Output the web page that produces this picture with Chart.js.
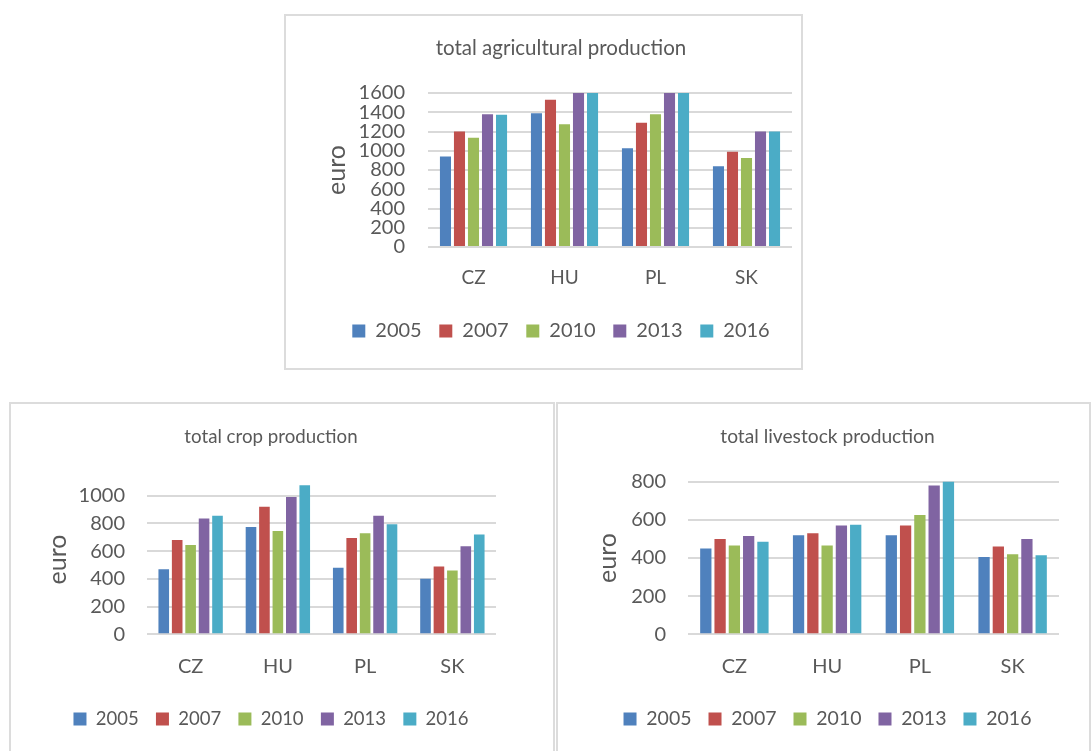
<!DOCTYPE html>
<html>
<head>
<meta charset="utf-8">
<script src="https://cdn.jsdelivr.net/npm/chart.js@4.4.1/dist/chart.umd.min.js"></script>
<style>
  body { margin: 0; background: #fff; }
  .panel { position: absolute; box-sizing: border-box; border: 2px solid #dcdcdc; background: #fff; overflow: hidden; }
  .panel canvas { position: absolute; left: 0; top: 0; }
</style>
</head>
<body>
<div class="panel" style="left:284px;top:14px;width:519px;height:356px"><canvas id="agri" width="515" height="352"></canvas></div>
<div class="panel" style="left:9px;top:402px;width:546px;height:358px"><canvas id="crop" width="542" height="354"></canvas></div>
<div class="panel" style="left:556px;top:402px;width:535px;height:358px"><canvas id="live" width="531" height="354"></canvas></div>
<script>
const countries = ['CZ', 'HU', 'PL', 'SK'];
const years = ['2005', '2007', '2010', '2013', '2016'];
const colors = ['#4f81bd', '#c0504d', '#9bbb59', '#8064a2', '#4bacc6'];

// values per year, in country order CZ, HU, PL, SK
const agri2005 = [940, 1390, 1025, 840];
const agri2007 = [1200, 1530, 1290, 990];
const agri2010 = [1135, 1275, 1380, 925];
const agri2013 = [1380, 1600, 1600, 1200];
const agri2016 = [1375, 1600, 1600, 1200];

const crop2005 = [470, 775, 480, 400];
const crop2007 = [680, 920, 695, 490];
const crop2010 = [645, 745, 730, 460];
const crop2013 = [835, 990, 855, 635];
const crop2016 = [855, 1075, 795, 720];

const live2005 = [450, 520, 520, 405];
const live2007 = [500, 530, 570, 460];
const live2010 = [465, 465, 625, 420];
const live2013 = [515, 570, 780, 500];
const live2016 = [485, 575, 805, 415];

const agriTicks = [0, 200, 400, 600, 800, 1000, 1200, 1400, 1600];
const cropTicks = [0, 200, 400, 600, 800, 1000];
const liveTicks = [0, 200, 400, 600, 800];

const grey = '#595959';
const family = 'Lato, "Liberation Sans", sans-serif';

function drawPanel(id, title, series, ticks, o) {
  new Chart(document.getElementById(id), {
    type: 'bar',
    data: {
      labels: countries,
      datasets: years.map((y, i) => ({
        label: y,
        data: series[i],
        backgroundColor: colors[i],
        categoryPercentage: 0.77,
        barPercentage: 0.79
      }))
    },
    options: {
      responsive: false,
      animation: false,
      layout: { padding: { left: o.padLeft, right: o.padRight, top: 0, bottom: o.padBottom } },
      plugins: {
        title: {
          display: true,
          text: title,
          color: grey,
          font: { family, size: o.titleSize, weight: 'normal' },
          padding: { top: o.titleTop, bottom: o.titleBottom }
        },
        legend: {
          position: 'bottom',
          labels: {
            boxWidth: 13,
            boxHeight: 13,
            padding: o.legendGap,
            color: grey,
            font: { family, size: o.legendSize }
          }
        },
        tooltip: { enabled: false }
      },
      scales: {
        x: {
          grid: { display: false },
          border: { display: false },
          ticks: { color: grey, font: { family, size: o.catSize }, padding: o.catPad },
          afterFit: s => { s.height = o.xHeight; }
        },
        y: {
          min: 0,
          max: o.max,
          grid: { color: '#d9d9d9', lineWidth: 2, drawTicks: false },
          border: { display: false },
          ticks: {
            autoSkip: false,
            color: grey,
            font: { family, size: o.tickSize },
            padding: o.tickPad,
            callback: v => String(v)
          },
          afterBuildTicks: s => { s.ticks = ticks.map(v => ({ value: v })); },
          title: {
            display: true,
            text: 'euro',
            color: grey,
            font: { family, size: 25 },
            padding: { top: o.euroPad, bottom: 0 }
          },
          afterFit: s => { s.width = o.yWidth; }
        }
      }
    }
  });
}

drawPanel('agri', 'total agricultural production',
  [agri2005, agri2007, agri2010, agri2013, agri2016], agriTicks, {
    max: 1600, padLeft: 44, padRight: 9, padBottom: 17, yWidth: 98,
    titleSize: 20.5, titleTop: 19.7, titleBottom: 32.7,
    tickSize: 20, tickPad: 23, euroPad: -8,
    catSize: 19, catPad: 11.6, xHeight: 56.4,
    legendSize: 20, legendGap: 17.6
  });

drawPanel('crop', 'total crop production',
  [crop2005, crop2007, crop2010, crop2013, crop2016], cropTicks, {
    max: 1080, padLeft: 35, padRight: 57, padBottom: 19.7, yWidth: 101,
    titleSize: 18.7, titleTop: 21.8, titleBottom: 36.4,
    tickSize: 20, tickPad: 22, euroPad: -3,
    catSize: 20, catPad: 12.7, xHeight: 58.2,
    legendSize: 18.5, legendGap: 17.3
  });

drawPanel('live', 'total livestock production',
  [live2005, live2007, live2010, live2013, live2016], liveTicks, {
    max: 800, padLeft: 38, padRight: 30, padBottom: 19.2, yWidth: 92,
    titleSize: 19.2, titleTop: 21.5, titleBottom: 33.2,
    tickSize: 20, tickPad: 22, euroPad: -3,
    catSize: 20, catPad: 12.4, xHeight: 58,
    legendSize: 19.5, legendGap: 17
  });
</script>
</body>
</html>
